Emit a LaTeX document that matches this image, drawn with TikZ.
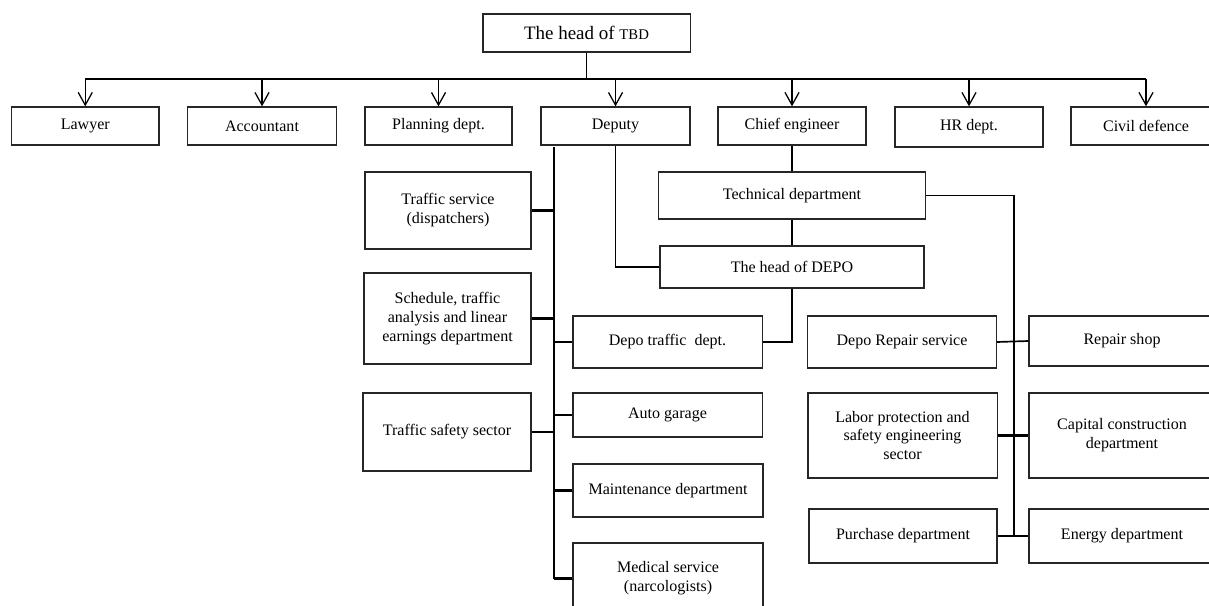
\documentclass[tikz,border=0pt]{standalone}
\usepackage{fontspec}
\setmainfont{Liberation Serif}
\usepackage{tikz}
\usetikzlibrary{arrows.meta}
\tikzset{mybox/.style={draw=black!85, line width=0.9pt, rectangle, align=center, inner sep=1pt, font=\fontsize{11.4}{13.5}\selectfont}}
\tikzset{thinline/.style={line width=0.8pt}, thickline/.style={line width=1.6pt}}
\tikzset{myarrow/.style={-{Straight Barb[length=9pt,width=10pt]}, line width=0.9pt}}

\begin{document}
\begin{tikzpicture}[x=0.025cm, y=-0.025cm]
    \clip (0,0) rectangle (1209,605);

    % top level
    \node[mybox, minimum width=5.18cm, minimum height=0.95cm, font=\fontsize{13.5}{16}\selectfont] (head) at (586.5, 33) {The head of {\fontsize{10.5}{12}\selectfont TBD}};

    \node[mybox, minimum width=3.69cm, minimum height=0.95cm] (lawyer)     at (85.25, 126) {Lawyer};
    \node[mybox, minimum width=3.74cm, minimum height=0.95cm] (accountant) at (262, 126)   {Accountant};
    \node[mybox, minimum width=3.68cm, minimum height=0.95cm] (planning)   at (438.5, 126) {Planning dept.};
    \node[mybox, minimum width=3.72cm, minimum height=0.95cm] (deputy)     at (615.5, 126) {Deputy};
    \node[mybox, minimum width=3.70cm, minimum height=0.95cm] (chief)      at (792, 126)   {Chief engineer};
    \node[mybox, minimum width=3.70cm, minimum height=1.00cm] (hr)         at (969, 127)   {HR dept.};
    \node[mybox, minimum width=3.75cm, minimum height=0.95cm] (civil)      at (1146, 126)  {Civil defence};

    % deputy branch
    \node[mybox, minimum width=4.15cm, minimum height=1.93cm] (traffic)  at (448, 210.5)   {Traffic service\\(dispatchers)};
    \node[mybox, minimum width=4.18cm, minimum height=2.28cm] (schedule) at (447.5, 318.5) {Schedule, traffic\\analysis and linear\\earnings department};
    \node[mybox, minimum width=4.20cm, minimum height=1.95cm] (safety)   at (447, 432)     {Traffic safety sector};

    \node[mybox, minimum width=4.73cm, minimum height=1.30cm] (depotraffic) at (667.5, 342) {Depo traffic\ \ dept.};
    \node[mybox, minimum width=4.73cm, minimum height=1.10cm] (garage)      at (667.5, 415) {Auto garage};
    \node[mybox, minimum width=4.75cm, minimum height=1.33cm] (maint)       at (668, 490.5) {Maintenance department};
    \node[mybox, minimum width=4.75cm, minimum height=1.78cm] (medical)     at (668, 578.5) {Medical service\\(narcologists)};

    % chief engineer branch
    \node[mybox, minimum width=6.68cm, minimum height=1.18cm] (tech) at (792, 195.5) {Technical department};
    \node[mybox, minimum width=6.60cm, minimum height=1.05cm] (depo) at (792, 267)   {The head of DEPO};

    \node[mybox, minimum width=4.71cm, minimum height=1.30cm] (repair)   at (902, 342)   {Depo Repair service};
    \node[mybox, minimum width=4.65cm, minimum height=1.25cm] (shop)     at (1122, 341)  {Repair shop};
    \node[mybox, minimum width=4.73cm, minimum height=2.13cm] (labor)    at (902.5, 435.5) {Labor protection and\\safety engineering\\sector};
    \node[mybox, minimum width=4.65cm, minimum height=2.13cm] (capital)  at (1122, 435.5) {Capital construction\\department};
    \node[mybox, minimum width=4.70cm, minimum height=1.35cm] (purchase) at (903, 536)   {Purchase department};
    \node[mybox, minimum width=4.65cm, minimum height=1.35cm] (energy)   at (1122, 536)  {Energy department};

    % bus under the head
    \coordinate (bus) at (587, 79);
    \draw[line width=1.4pt] (head.south) -- (head.south |- bus);
    \draw[line width=0.9pt] (lawyer.north |- bus) -- (head.south |- bus);
    \draw[line width=1.4pt] (head.south |- bus) -- (civil.north |- bus);
    \foreach \n in {lawyer, accountant, planning, deputy, chief, hr, civil}
        \draw[myarrow] (\n.north |- bus) -- (\n.north);

    % deputy spine
    \coordinate (sp) at (554, 0);
    \draw[thickline] ([yshift=-1pt]sp |- deputy.south) -- (sp |- medical.west);
    \draw[thickline] (traffic.east) -- (traffic.east -| sp);
    \draw[thickline] (schedule.east) -- (schedule.east -| sp);
    \draw[thinline] (safety.east) -- (safety.east -| sp);
    \foreach \n in {depotraffic, garage, maint, medical}
        \draw[thickline] (sp |- \n.west) -- (\n.west);
    \draw[thinline] (deputy.south) |- (depo.west);

    % technical side
    \draw[thinline] (chief.south) -- (tech.north);
    \draw[thickline] (tech.south) -- (depo.north);
    \draw[thinline] (depo.south) |- (depotraffic.east);
    \coordinate (trunk) at (1014, 537);
    \draw[thinline] (tech.east) -| (trunk);
    \draw[line width=1.2pt] (repair.east) -- (shop.west);
    \draw[thickline] (labor.east) -- (capital.west);
    \draw[thickline] (purchase.east) -- (energy.west);
\end{tikzpicture}
\end{document}
